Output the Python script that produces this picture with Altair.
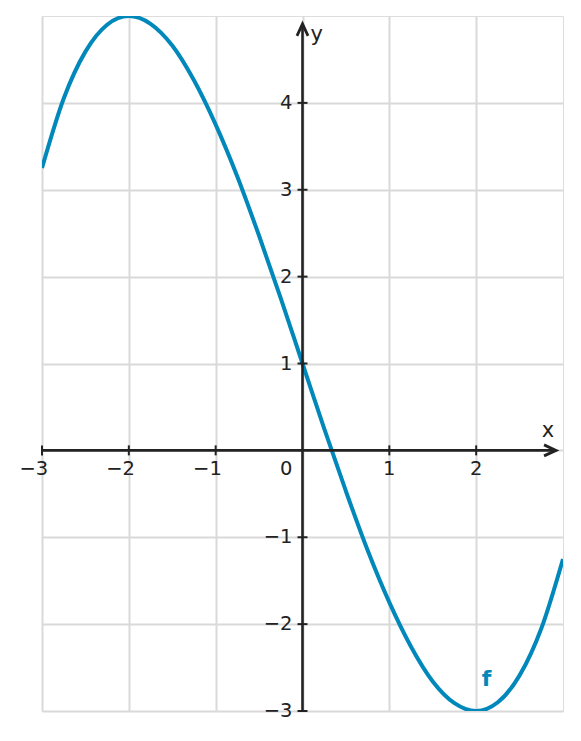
import altair as alt
import pandas as pd

# curve values
curve_x = [-3, -2.75, -2.5, -2.25, -2, -1.75, -1.5, -1.25, -1, -0.75, -0.5, -0.25,
           0, 0.25, 0.5, 0.75, 1, 1.25, 1.5, 1.75, 2, 2.25, 2.5, 2.75, 3]
curve_y = [3.25, 4.05, 4.59, 4.90, 5.0, 4.91, 4.66, 4.26, 3.75, 3.15, 2.47, 1.75,
           1.0, 0.25, -0.47, -1.15, -1.75, -2.26, -2.66, -2.91, -3.0, -2.90, -2.59, -2.05, -1.25]

x_grid = [-3, -2, -1, 0, 1, 2]
y_grid = [-3, -2, -1, 0, 1, 2, 3, 4]
x_ticks = [-3, -2, -1, 1, 2]
x_tick_labels = ["−3", "−2", "−1", "1", "2"]
y_ticks = [-3, -2, -1, 1, 2, 3, 4]
y_tick_labels = ["−3", "−2", "−1", "1", "2", "3", "4"]
x_axis_end = 2.92
y_axis_end = 4.91
f_label_pos = (2.12, -2.63)

FONT = "DejaVu Sans"
INK = "#222222"
BLUE = "#0088BB"
TS = 19.5

xs = alt.Scale(domain=[-3, 3], nice=False, zero=False)
ys = alt.Scale(domain=[-3, 5], nice=False, zero=False)
xax = alt.Axis(values=x_grid, grid=True, labels=False, ticks=False, domain=False,
               title=None, gridColor="#d9d9d9", gridWidth=2)
yax = alt.Axis(values=y_grid, grid=True, labels=False, ticks=False, domain=False,
               title=None, gridColor="#d9d9d9", gridWidth=2)


def X(field):
    return alt.X(field, type="quantitative", scale=xs, axis=xax)


def Y(field):
    return alt.Y(field, type="quantitative", scale=ys, axis=yax)


curve_df = pd.DataFrame({"x": curve_x, "y": curve_y})
curve = alt.Chart(curve_df).mark_line(
    color=BLUE, strokeWidth=4, interpolate="monotone", clip=True
).encode(x=X("x"), y=Y("y"))

xaxis_df = pd.DataFrame({"x": [-3], "x2": [x_axis_end], "y": [0]})
xaxis_line = alt.Chart(xaxis_df).mark_rule(color=INK, strokeWidth=2.6).encode(
    x=X("x"), x2="x2", y=Y("y"))

yaxis_df = pd.DataFrame({"x": [0], "y": [-3], "y2": [y_axis_end]})
yaxis_line = alt.Chart(yaxis_df).mark_rule(color=INK, strokeWidth=2.6).encode(
    x=X("x"), y=Y("y"), y2="y2")

xarrow_df = pd.DataFrame({"x": [x_axis_end], "y": [0]})
xarrow = alt.Chart(xarrow_df).mark_point(
    shape="M-1,-0.46L0,0L-1,0.46", size=576, filled=False, stroke=INK,
    strokeWidth=2.8, strokeJoin="miter", opacity=1
).encode(x=X("x"), y=Y("y"))

yarrow_df = pd.DataFrame({"x": [0], "y": [y_axis_end]})
yarrow = alt.Chart(yarrow_df).mark_point(
    shape="M-0.46,1L0,0L0.46,1", size=576, filled=False, stroke=INK,
    strokeWidth=2.8, strokeJoin="miter", opacity=1
).encode(x=X("x"), y=Y("y"))

xt_df = pd.DataFrame({"x": x_ticks, "y": [0] * len(x_ticks), "label": x_tick_labels})
xtick_marks = alt.Chart(xt_df).mark_tick(
    color=INK, size=10, thickness=2, orient="vertical", opacity=1
).encode(x=X("x"), y=Y("y"))
xtick_text = alt.Chart(xt_df).mark_text(
    font=FONT, fontSize=TS, color=INK, align="right", baseline="middle", dx=6.2, dy=19
).encode(x=X("x"), y=Y("y"), text="label")

yt_df = pd.DataFrame({"x": [0] * len(y_ticks), "y": y_ticks, "label": y_tick_labels})
ytick_marks = alt.Chart(yt_df).mark_tick(
    color=INK, size=10, thickness=2, orient="horizontal", opacity=1
).encode(x=X("x"), y=Y("y"))
ytick_text = alt.Chart(yt_df).mark_text(
    font=FONT, fontSize=TS, color=INK, align="right", baseline="middle", dx=-10
).encode(x=X("x"), y=Y("y"), text="label")

zero_df = pd.DataFrame({"x": [0], "y": [0], "label": ["0"]})
zero_text = alt.Chart(zero_df).mark_text(
    font=FONT, fontSize=TS, color=INK, align="right", baseline="middle", dx=-10, dy=19
).encode(x=X("x"), y=Y("y"), text="label")

xlab_df = pd.DataFrame({"x": [x_axis_end], "y": [0], "label": ["x"]})
xlab = alt.Chart(xlab_df).mark_text(
    font=FONT, fontSize=21, color=INK, align="center", baseline="alphabetic", dx=-8, dy=-13
).encode(x=X("x"), y=Y("y"), text="label")

ylab_df = pd.DataFrame({"x": [0], "y": [y_axis_end], "label": ["y"]})
ylab = alt.Chart(ylab_df).mark_text(
    font=FONT, fontSize=21, color=INK, align="left", baseline="alphabetic", dx=8, dy=17
).encode(x=X("x"), y=Y("y"), text="label")

f_df = pd.DataFrame({"x": [f_label_pos[0]], "y": [f_label_pos[1]], "label": ["f"]})
flab = alt.Chart(f_df).mark_text(
    font=FONT, fontSize=22, fontWeight="bold", color=BLUE, align="center", baseline="middle"
).encode(x=X("x"), y=Y("y"), text="label")

chart = alt.layer(
    curve, xaxis_line, yaxis_line, xtick_marks, ytick_marks, xarrow, yarrow,
    xtick_text, ytick_text, zero_text, xlab, ylab, flab
).properties(
    width=521, height=695,
    padding={"left": 34, "top": 8, "right": 10, "bottom": 22},
    autosize=alt.AutoSizeParams(type="none"),
).configure_view(stroke=None).configure(background="white")

chart.save("out.html", embed_options={"renderer": "svg", "actions": False})
